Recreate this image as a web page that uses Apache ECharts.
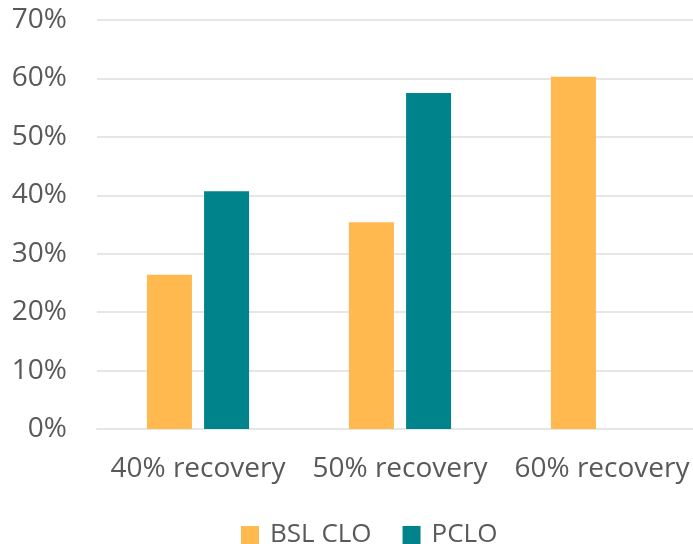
<!DOCTYPE html>
<html>
<head>
<meta charset="utf-8">
<script src="https://cdn.jsdelivr.net/npm/echarts@6/dist/echarts.min.js"></script>
<style>
	html,body{margin:0;padding:0;background:#fff;}
	#main{width:693px;height:544px;}
</style>
</head>
<body>
<div id="main"></div>
<script>
	// 数据
	var categories = ['40% recovery', '50% recovery', '60% recovery'];
	var bslClo = [26.4, 35.4, 60.3];
	var pclo = [40.7, 57.5, null];
	var yTicks = [0, 10, 20, 30, 40, 50, 60, 70];

	var textColor = '#595959';
	var fontFam = '"Open Sans", sans-serif';

	var chart = echarts.init(document.getElementById('main'));
	var option = {
		animation: false,
		color: ['#FFB94F', '#00838A'],
		grid: { left: 97, right: -10, top: 20, bottom: 115, outerBoundsMode: 'none', containLabel: false },
		legend: {
			top: 517,
			left: 236,
			itemWidth: 18,
			itemHeight: 18,
			itemGap: 31,
			icon: 'rect',
			textStyle: { color: textColor, fontSize: 26, fontFamily: fontFam, padding: [0, 0, 0, 6] },
			data: ['BSL CLO', 'PCLO']
		},
		xAxis: {
			type: 'category',
			data: categories,
			axisTick: { show: false },
			axisLine: { lineStyle: { color: '#E6E6E6', width: 2 } },
			axisLabel: {
				color: textColor, fontSize: 28, fontFamily: fontFam, margin: 26,
				interval: 0, hideOverlap: false
			}
		},
		yAxis: {
			type: 'value',
			min: yTicks[0],
			max: yTicks[yTicks.length - 1],
			interval: 10,
			axisLine: { show: false },
			axisTick: { show: false },
			splitLine: { lineStyle: { color: '#E6E6E6', width: 2 } },
			axisLabel: {
				color: textColor, fontSize: 28, fontFamily: fontFam, margin: 30,
				formatter: function (v) { return v + '%'; }
			}
		},
		series: [
			{ name: 'BSL CLO', type: 'bar', data: bslClo, barWidth: 45, barGap: '27%' },
			{ name: 'PCLO', type: 'bar', data: pclo, barWidth: 45, barGap: '27%' }
		]
	};
	chart.setOption(option);
</script>
</body>
</html>
